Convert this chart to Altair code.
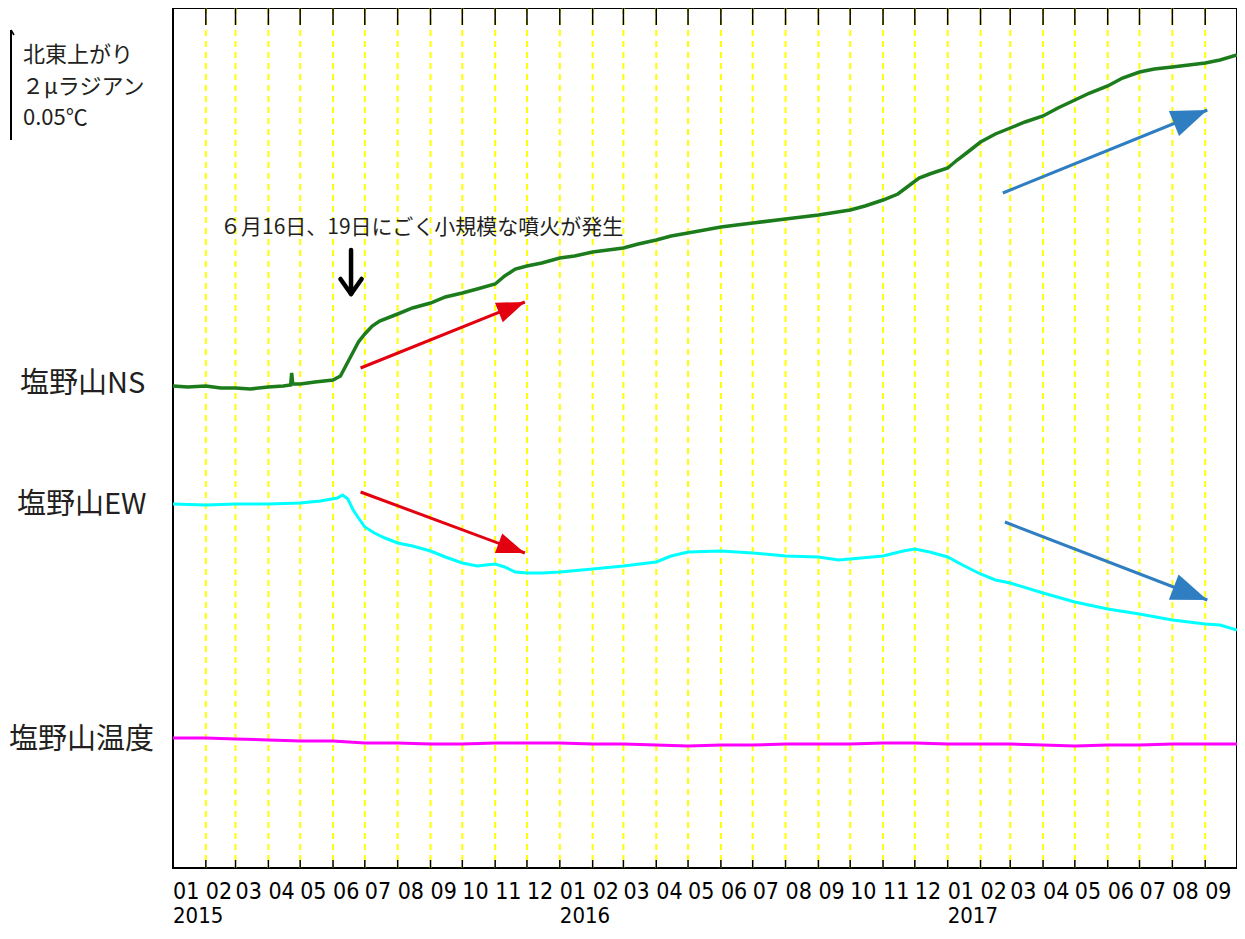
import math
import altair as alt
import pandas as pd

# ---------------- data (arbitrary level units) ----------------
ns_dates = ["2015-01-01", "2015-01-15", "2015-02-01", "2015-02-15", "2015-03-01", "2015-03-15",
            "2015-04-01", "2015-04-15", "2015-04-22", "2015-04-23", "2015-04-24", "2015-05-01",
            "2015-05-15", "2015-06-01", "2015-06-08", "2015-06-12", "2015-06-16", "2015-06-20",
            "2015-06-25", "2015-07-01", "2015-07-08", "2015-07-15", "2015-08-01", "2015-08-15",
            "2015-09-01", "2015-09-15", "2015-10-01", "2015-10-15", "2015-11-01", "2015-11-10",
            "2015-11-20", "2015-12-01", "2015-12-15", "2016-01-01", "2016-01-15", "2016-02-01",
            "2016-03-01", "2016-03-15", "2016-04-01", "2016-04-15", "2016-05-01", "2016-06-01",
            "2016-07-01", "2016-08-01", "2016-09-01", "2016-10-01", "2016-10-15", "2016-11-01",
            "2016-11-15", "2016-11-25", "2016-12-05", "2016-12-15", "2017-01-01", "2017-01-10",
            "2017-01-20", "2017-02-01", "2017-02-15", "2017-03-01", "2017-03-15", "2017-04-01",
            "2017-04-15", "2017-05-01", "2017-05-15", "2017-06-01", "2017-06-15", "2017-07-01",
            "2017-07-15", "2017-08-01", "2017-09-01", "2017-09-15", "2017-10-01"]
ns_vals = [482, 481, 482, 480, 480, 479,
           481, 482, 483, 495, 484, 484,
           486, 488, 492, 500, 508, 516,
           526, 534, 542, 547, 554, 560,
           565, 571, 575, 579, 584, 592,
           599, 602, 605, 610, 612, 616,
           620, 624, 628, 632, 635, 641,
           645, 649, 653, 658, 662, 668,
           674, 682, 690, 694, 700, 708,
           716, 726, 734, 740, 746, 752,
           760, 768, 775, 782, 790, 796,
           799, 801, 805, 808, 813]

ew_dates = ["2015-01-01", "2015-02-01", "2015-03-01", "2015-04-01", "2015-05-01", "2015-05-20",
            "2015-06-05", "2015-06-10", "2015-06-15", "2015-06-20", "2015-06-25", "2015-07-01",
            "2015-07-10", "2015-07-20", "2015-08-01", "2015-08-15", "2015-09-01", "2015-09-15",
            "2015-10-01", "2015-10-15", "2015-11-01", "2015-11-10", "2015-11-20", "2015-12-01",
            "2015-12-15", "2016-01-01", "2016-02-01", "2016-03-01", "2016-04-01", "2016-04-15",
            "2016-05-01", "2016-06-01", "2016-07-01", "2016-08-01", "2016-09-01", "2016-09-20",
            "2016-10-01", "2016-11-01", "2016-11-20", "2016-12-01", "2016-12-15", "2017-01-01",
            "2017-01-15", "2017-02-01", "2017-02-15", "2017-03-01", "2017-04-01", "2017-05-01",
            "2017-06-01", "2017-07-01", "2017-08-01", "2017-09-01", "2017-09-15", "2017-10-01"]
ew_vals = [364, 363, 364, 364, 365, 367,
           370, 373, 369, 358, 350, 341,
           335, 330, 325, 322, 317, 311,
           305, 302, 304, 301, 296, 295,
           295, 296, 299, 302, 306, 312,
           316, 317, 315, 312, 311, 308,
           309, 312, 317, 319, 316, 311,
           303, 294, 288, 285, 275, 266,
           259, 254, 248, 244, 243, 238]

tp_dates = ["2015-01-01", "2015-02-01", "2015-03-01", "2015-04-01", "2015-05-01", "2015-06-01",
            "2015-07-01", "2015-08-01", "2015-09-01", "2015-10-01", "2015-11-01", "2015-12-01",
            "2016-01-01", "2016-02-01", "2016-03-01", "2016-04-01", "2016-05-01", "2016-06-01",
            "2016-07-01", "2016-08-01", "2016-09-01", "2016-10-01", "2016-11-01", "2016-12-01",
            "2017-01-01", "2017-02-01", "2017-03-01", "2017-04-01", "2017-05-01", "2017-06-01",
            "2017-07-01", "2017-08-01", "2017-09-01", "2017-10-01"]
tp_vals = [130, 130, 129, 128, 127, 127,
           125, 125, 124, 124, 125, 125,
           125, 124, 124, 123, 122, 123,
           123, 124, 124, 124, 125, 125,
           124, 124, 124, 123, 122, 123,
           123, 124, 124, 124]

series_names = ["塩野山NS", "塩野山EW", "塩野山温度"]
series_colors = ["#1C7C1C", "#00FFFF", "#FF00FF"]

month_starts = pd.date_range("2015-01-01", "2017-09-01", freq="MS")
month_labels = [f"{d.month:02d}" for d in month_starts]
year_labels = ["2015", "2016", "2017"]
year_dates = ["2015-01-01", "2016-01-01", "2017-01-01"]

# arrows: start date/level -> tip date/level
arrow_x1 = ["2015-06-27", "2015-06-27", "2017-02-22", "2017-02-24"]
arrow_y1 = [500, 376, 675, 346]
arrow_x2 = ["2015-11-29", "2015-11-29", "2017-09-03", "2017-09-03"]
arrow_y2 = [566, 315, 758, 268]
arrow_colors = ["#E3000F", "#E3000F", "#2F7EC1", "#2F7EC1"]

note_text = "６月16日、19日にごく小規模な噴火が発生"
scale_texts = ["北東上がり", "２μラジアン", "0.05℃"]

# ---------------- chart ----------------
W, H = 1064, 860
X0, X1 = pd.Timestamp("2015-01-01"), pd.Timestamp("2017-10-01")
PX_PER_DAY = W / (X1 - X0).days

xscale = alt.Scale(type="utc",
                   domain=[alt.DateTime(year=2015, month=1, date=1, utc=True),
                           alt.DateTime(year=2017, month=10, date=1, utc=True)])
yscale = alt.Scale(domain=[0, H])
X = lambda f: alt.X(f"{f}:T", scale=xscale, axis=None)
Y = lambda f: alt.Y(f"{f}:Q", scale=yscale, axis=None)

JP = "Noto Sans CJK JP"
TXT = "#231F20"

# yellow dashed month lines + black ticks
grid_df = pd.DataFrame({"d": [d.strftime("%Y-%m-%d") for d in month_starts[1:]]})
grid = alt.Chart(grid_df).mark_rule(color="#FFFF00", strokeWidth=2, strokeDash=[6, 5]).encode(x=X("d"))
top_ticks = alt.Chart(grid_df).mark_rule(color="black", strokeWidth=1.5).encode(
    x=X("d"), y=alt.value(0), y2=alt.value(17))
bot_ticks = alt.Chart(grid_df).mark_rule(color="black", strokeWidth=1.5).encode(
    x=X("d"), y=alt.value(H - 8), y2=alt.value(H))

# series
def series(dates, vals, color, width):
    df = pd.DataFrame({"date": dates, "v": vals})
    return alt.Chart(df).mark_line(color=color, strokeWidth=width).encode(x=X("date"), y=Y("v"))

ns_line = series(ns_dates, ns_vals, series_colors[0], 3.5)
ew_line = series(ew_dates, ew_vals, series_colors[1], 3)
tp_line = series(tp_dates, tp_vals, series_colors[2], 3)

# coloured arrows
arr = pd.DataFrame({"x1": arrow_x1, "y1": arrow_y1, "x2": arrow_x2, "y2": arrow_y2, "c": arrow_colors})
heads = []
for _, r in arr.iterrows():
    dx = (pd.Timestamp(r.x2) - pd.Timestamp(r.x1)).days * PX_PER_DAY
    dv = r.y2 - r.y1
    L = math.hypot(dx, dv)
    big = r.c != "#E3000F"
    s = 18 if big else 14
    hx = pd.Timestamp(r.x2) - pd.Timedelta(days=(s * dx / L) / PX_PER_DAY)
    hv = r.y2 - s * dv / L
    ang = math.degrees(math.atan2(dx, dv)) % 360
    heads.append({"hx": hx.strftime("%Y-%m-%dT%H:%M:%SZ"), "hv": hv, "ang": ang,
                  "c": r.c, "size": (2 * s) ** 2})
heads_df = pd.DataFrame(heads)

arrow_lines = alt.Chart(arr).mark_rule(strokeWidth=3).encode(
    x=X("x1"), y=Y("y1"), x2="x2:T", y2="y2:Q", color=alt.Color("c:N", scale=None))
arrow_heads = alt.Chart(heads_df).mark_point(
    shape="M0,-1L0.75,1L-0.75,1Z", filled=True, opacity=1, strokeWidth=0).encode(
    x=X("hx"), y=Y("hv"), angle=alt.Angle("ang:Q", scale=None),
    color=alt.Color("c:N", scale=None), size=alt.Size("size:Q", scale=None))

# black down arrow
blk = pd.DataFrame({"xa": ["2015-06-18", "2015-06-08", "2015-06-28"],
                    "ya": [618, 589, 589],
                    "xb": ["2015-06-18", "2015-06-18", "2015-06-18"],
                    "yb": [575, 574, 574]})
black_arrow = alt.Chart(blk).mark_rule(color="black", strokeWidth=4.5, strokeCap="round").encode(
    x=X("xa"), y=Y("ya"), x2="xb:T", y2="yb:Q")

# annotation
note = alt.Chart(pd.DataFrame({"t": [note_text]})).mark_text(
    font=JP, fontSize=21, color=TXT, align="left", baseline="middle").encode(
    x=alt.value(47), y=alt.value(220), text="t:N")

# month / year labels
ml_df = pd.DataFrame({"d": [d.strftime("%Y-%m-%d") for d in month_starts], "t": month_labels})
mlabels = alt.Chart(ml_df).mark_text(
    font="DejaVu Sans Condensed", fontSize=23, color="black", align="left", baseline="middle").encode(
    x=X("d"), y=alt.value(884), text="t:N")
yl_df = pd.DataFrame({"d": year_dates, "t": year_labels})
ylabels = alt.Chart(yl_df).mark_text(
    font="DejaVu Sans Condensed", fontSize=22, color="black", align="left", baseline="middle").encode(
    x=X("d"), y=alt.value(908), text="t:N")

# left labels
def label(text, x, y, size):
    return alt.Chart(pd.DataFrame({"t": [text]})).mark_text(
        font=JP, fontSize=size, color=TXT, align="left", baseline="middle").encode(
        x=alt.value(x), y=alt.value(y), text="t:N")

lab_ns = label(series_names[0], -153, 376, 29)
lab_ew = label(series_names[1], -156, 497, 29)
lab_tp = label(series_names[2], -164, 732, 29)

sc1 = label(scale_texts[0], -150, 47, 22)
sc2 = label(scale_texts[1], -151, 79, 22)
sc3 = label(scale_texts[2], -150, 110, 22)

scale_bar = alt.Chart(pd.DataFrame({"a": [0]})).mark_rule(color="black", strokeWidth=2).encode(
    x=alt.value(-162), y=alt.value(22), y2=alt.value(132))
scale_hook = alt.Chart(pd.DataFrame({"a": [0]})).mark_rule(color="black", strokeWidth=1.5).encode(
    x=alt.value(-162), x2=alt.value(-159), y=alt.value(22), y2=alt.value(27))

chart = alt.layer(
    grid, top_ticks, bot_ticks,
    tp_line, ew_line, ns_line,
    arrow_lines, arrow_heads, black_arrow,
    note, mlabels, ylabels,
    lab_ns, lab_ew, lab_tp, sc1, sc2, sc3, scale_bar, scale_hook,
).properties(
    width=W, height=H,
    autosize=alt.AutoSizeParams(type="none"),
    padding={"left": 165, "top": 0, "right": 0, "bottom": 63},
    background="white",
).configure_view(stroke="black", strokeWidth=2)

chart.save("out.html", embed_options={"renderer": "svg", "actions": False})
